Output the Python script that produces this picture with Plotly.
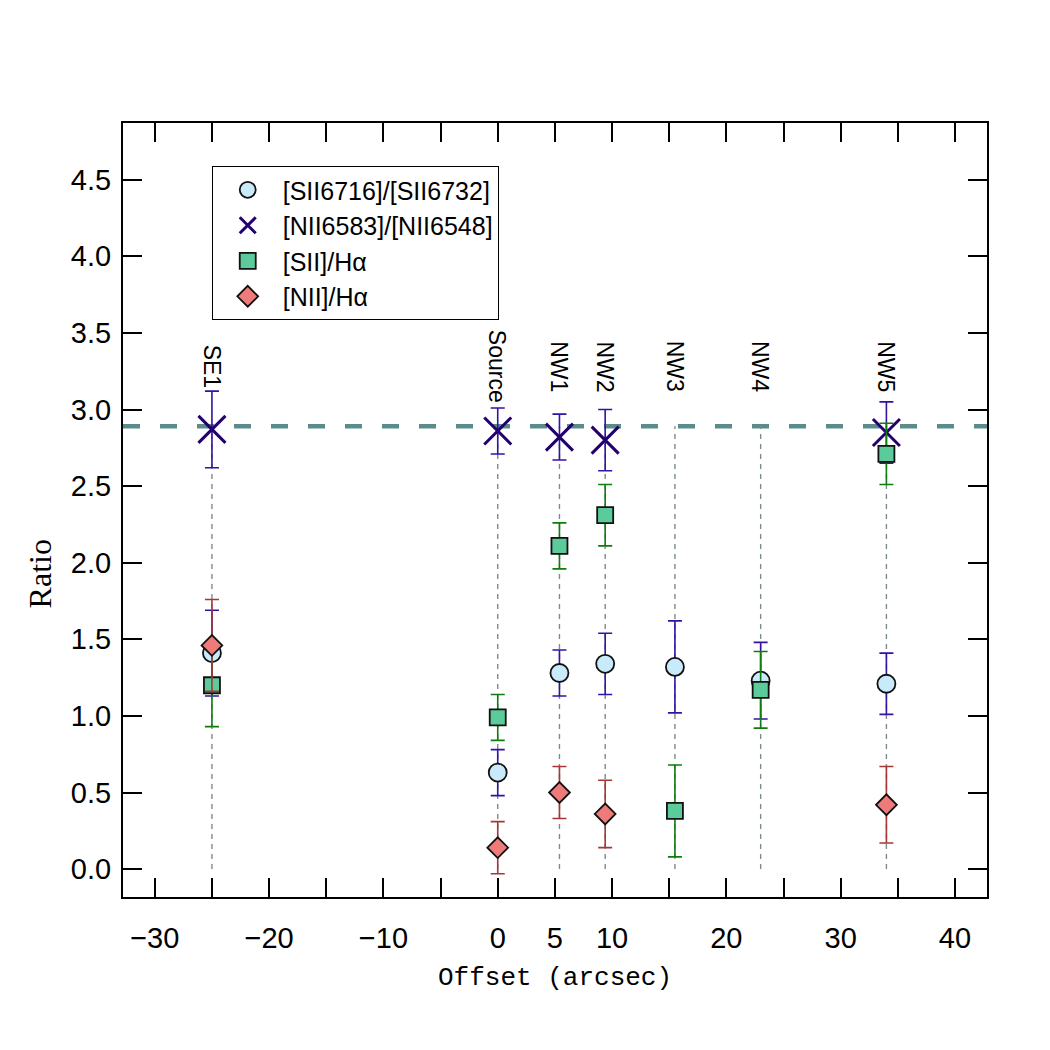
import plotly.graph_objects as go

# ---------------- data ----------------
regions = ["SE1", "Source", "NW1", "NW2", "NW3", "NW4", "NW5"]
offsets = [-25.0, 0.0, 5.4, 9.4, 15.5, 23.0, 34.0]

# [SII6716]/[SII6732]
sii_ratio = [1.41, 0.63, 1.28, 1.34, 1.32, 1.23, 1.21]
sii_ratio_err = [0.28, 0.15, 0.15, 0.20, 0.30, 0.25, 0.20]

# [NII6583]/[NII6548]  (None where not measured)
nii_ratio = [2.87, 2.86, 2.82, 2.80, None, None, 2.85]
nii_ratio_err = [0.25, 0.15, 0.15, 0.20, None, None, 0.20]

# [SII]/Halpha
sii_ha = [1.20, 0.99, 2.11, 2.31, 0.38, 1.17, 2.71]
sii_ha_err = [0.27, 0.15, 0.15, 0.20, 0.30, 0.25, 0.20]

# [NII]/Halpha
nii_ha = [1.46, 0.14, 0.50, 0.36, None, None, 0.42]
nii_ha_err = [0.30, 0.17, 0.17, 0.22, None, None, 0.25]

theory_ratio = 2.89       # horizontal dashed reference line
label_y = 3.28            # y position of the region labels
guide_top = 2.89          # top of the vertical guide lines

x_tickvals = [-30, -25, -20, -15, -10, -5, 0, 5, 10, 15, 20, 25, 30, 35, 40]
x_ticktext = ["\u221230", "", "\u221220", "", "\u221210", "", "0", "5", "10",
              "", "20", "", "30", "", "40"]
y_tickvals = [0.0, 0.5, 1.0, 1.5, 2.0, 2.5, 3.0, 3.5, 4.0, 4.5]
x_range = [-32.78, 42.8]
y_range = [-0.182, 4.87]

# ---------------- figure ----------------
fig = go.Figure()

# vertical dotted guide lines
gx, gy = [], []
for xo in offsets:
    gx += [xo, xo, None]
    gy += [0.0, guide_top, None]
fig.add_trace(go.Scatter(x=gx, y=gy, mode="lines", showlegend=False,
                         hoverinfo="skip",
                         line=dict(color="#7d8b8b", width=1.4, dash="5px,5px")))

def filt(vals, errs):
    xs, ys, es = [], [], []
    for xo, v, e in zip(offsets, vals, errs):
        if v is not None:
            xs.append(xo); ys.append(v); es.append(e)
    return xs, ys, es

xs, ys, es = filt(sii_ratio, sii_ratio_err)
fig.add_trace(go.Scatter(
    x=xs, y=ys, mode="markers", name="[SII6716]/[SII6732]",
    error_y=dict(type="data", array=es, color="#3312a6", thickness=1.6, width=7),
    marker=dict(symbol="circle", size=18, color="#c8eafb",
                line=dict(color="#111111", width=1.8))))

xs, ys, es = filt(nii_ratio, nii_ratio_err)
fig.add_trace(go.Scatter(
    x=xs, y=ys, mode="markers", name="[NII6583]/[NII6548]",
    error_y=dict(type="data", array=es, color="#3312a6", thickness=1.6, width=7),
    marker=dict(symbol="x-thin", size=27, color="#22006e",
                line=dict(color="#22006e", width=3))))

xs, ys, es = filt(sii_ha, sii_ha_err)
fig.add_trace(go.Scatter(
    x=xs, y=ys, mode="markers", name="[SII]/H\u03b1",
    error_y=dict(type="data", array=es, color="#0e7d0e", thickness=1.6, width=7),
    marker=dict(symbol="square", size=16, color="#5ccb9c",
                line=dict(color="#111111", width=1.8))))

xs, ys, es = filt(nii_ha, nii_ha_err)
fig.add_trace(go.Scatter(
    x=xs, y=ys, mode="markers", name="[NII]/H\u03b1",
    error_y=dict(type="data", array=es, color="#a83636", thickness=1.6, width=7),
    marker=dict(symbol="diamond", size=16, color="#ee7a7a",
                line=dict(color="#111111", width=1.8))))

# dashed reference line
fig.add_shape(type="line", xref="paper", x0=0, x1=1, yref="y",
              y0=theory_ratio, y1=theory_ratio, layer="below",
              line=dict(color="#5a8c8c", width=4.5, dash="17px,20px"))

# region labels
for name, xo in zip(regions, offsets):
    fig.add_annotation(x=xo, y=label_y, text=name, showarrow=False,
                       textangle=90, xanchor="center", yanchor="middle",
                       font=dict(family="Liberation Sans", size=23, color="black"))

# axis titles as annotations
fig.add_annotation(xref="paper", yref="paper", x=0.5, y=-0.105,
                   text="Offset (arcsec)", showarrow=False,
                   xanchor="center", yanchor="middle",
                   font=dict(family="Liberation Mono", size=26, color="black"))
fig.add_annotation(xref="paper", yref="paper", x=-0.095, y=0.418,
                   text="Ratio", showarrow=False, textangle=-90,
                   xanchor="center", yanchor="middle",
                   font=dict(family="Liberation Serif", size=32, color="black"))

axis_common = dict(showline=True, linecolor="black", linewidth=2,
                   mirror="ticks", ticks="inside", ticklen=19, tickwidth=1.5,
                   tickcolor="black", showgrid=False, zeroline=False,
                   tickfont=dict(family="Liberation Sans", size=29, color="black"))

fig.update_layout(
    width=1050, height=1050,
    margin=dict(l=123, r=63, t=123, b=153),
    paper_bgcolor="white", plot_bgcolor="white",
    xaxis=dict(range=x_range, tickmode="array", tickvals=x_tickvals,
               ticktext=x_ticktext, ticklabelstandoff=14, **axis_common),
    yaxis=dict(range=y_range, tickmode="array", tickvals=y_tickvals,
               tickformat=".1f", ticklabelstandoff=4, **axis_common),
    legend=dict(x=0.1027, y=0.9444, xanchor="left", yanchor="top",
                bordercolor="black", borderwidth=1, bgcolor="white",
                font=dict(family="Liberation Sans", size=25, color="black"),
                itemwidth=60, tracegroupgap=0),
    showlegend=True,
)

fig.write_html("out.html")
